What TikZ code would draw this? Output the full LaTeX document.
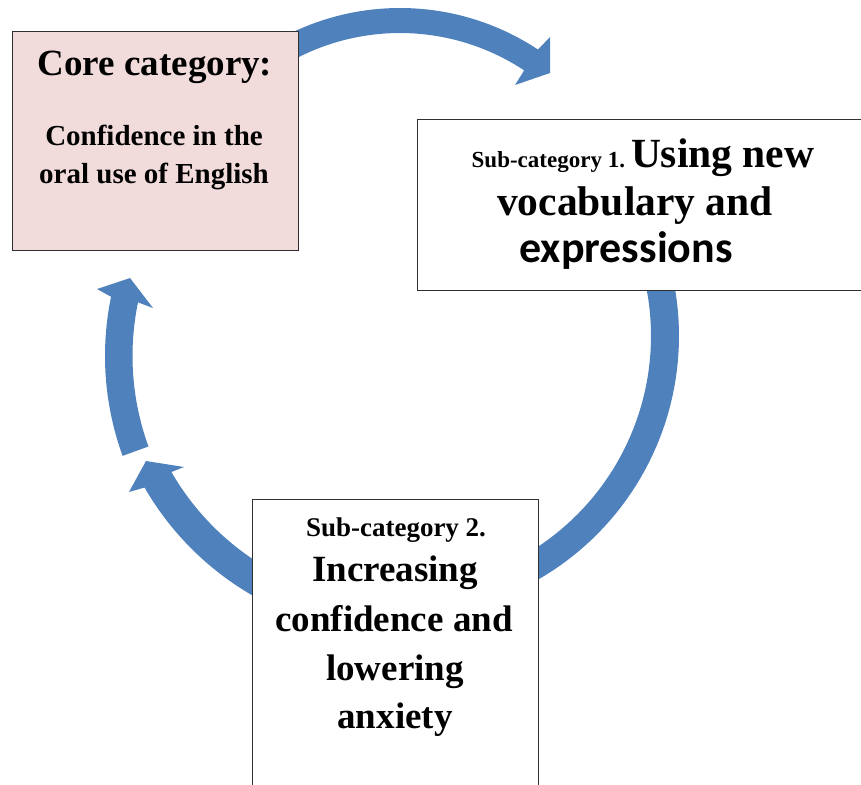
\documentclass[tikz,border=0pt]{standalone}
\usepackage{fontspec}
\setmainfont{Liberation Serif}
\newfontfamily\calib{Carlito}
\definecolor{arrowblue}{HTML}{4F81BD}
\definecolor{corefill}{HTML}{F2DCDB}
\definecolor{boxline}{HTML}{303030}
\begin{document}
\begin{tikzpicture}[x=1pt,y=-1pt,
  box/.style={draw=boxline, line width=1.4pt, inner sep=0pt, anchor=north west},
  txt/.style={inner sep=0pt, anchor=base, font=\bfseries},
  band/.style={fill=arrowblue}]
\useasboundingbox (0,0) rectangle (861,784);
\clip (0,0) rectangle (861,784);
\fill[white] (0,0) rectangle (861,784);

% arrow 1: top
\fill[band] plot[domain=240:303.5, samples=50] ({400+250*cos(\x)},{258+250*sin(\x)})
  -- (550,37) -- (550,73) -- (515,85)
  -- plot[domain=303.5:240, samples=50] ({400+225*cos(\x)},{258+225*sin(\x)}) -- cycle;
% arrow 2: right
\fill[band] plot[domain=-30:110, samples=80] ({398+281*cos(\x)},{336+281*sin(\x)})
  -- plot[domain=110:-30, samples=80] ({398+253*cos(\x)},{336+253*sin(\x)}) -- cycle;
% arrow 3: bottom left
\fill[band] plot[domain=110:150, samples=40] ({400+295*cos(\x)},{340+295*sin(\x)})
  -- (129,492) -- (146,461) -- (184,467)
  -- plot[domain=150:110, samples=40] ({400+264*cos(\x)},{340+264*sin(\x)}) -- cycle;
% arrow 4: left
\fill[band] plot[domain=160:191.7, samples=40] ({397+292*cos(\x)},{356+292*sin(\x)})
  -- (97,289) -- (130,278) -- (153,308)
  -- plot[domain=191.7:160, samples=40] ({397+264.5*cos(\x)},{356+264.5*sin(\x)}) -- cycle;

% boxes
\node[box, fill=corefill, minimum width=286pt, minimum height=219pt] (core) at (12,31) {};
\node[box, fill=white, minimum width=470pt, minimum height=171pt] (sub1) at (417,119) {};
\node[box, fill=white, minimum width=286pt, minimum height=320pt] (sub2) at (252,499) {};

% core text
\node[txt] (c1) at (155,75) {\fontsize{37}{44}\selectfont Core category:};
\node[txt] (c2) at (154,145) {\fontsize{29}{35}\selectfont Confidence in the};
\node[txt] (c3) at (154,183) {\fontsize{29}{35}\selectfont oral use of English};

% sub-category 1 text
\node[txt] (s1a) at (643,167) {{\fontsize{23}{28}\selectfont Sub-category 1.}\hspace{6pt}{\fontsize{41.5}{48}\selectfont Using new}};
\node[txt] (s1b) at (635,215) {\fontsize{41.5}{48}\selectfont vocabulary and};
\node[txt] (s1c) at (626,262) {\calib\fontsize{44}{52}\selectfont expressions};

% sub-category 2 text
\node[txt] (s2a) at (396,536) {\fontsize{27}{32}\selectfont Sub-category 2.};
\node[txt] (s2b) at (395,581) {\fontsize{37}{44}\selectfont Increasing};
\node[txt] (s2c) at (394,631) {\fontsize{37}{44}\selectfont confidence and};
\node[txt] (s2d) at (395,680) {\fontsize{37}{44}\selectfont lowering};
\node[txt] (s2e) at (395,728) {\fontsize{37}{44}\selectfont anxiety};
\end{tikzpicture}
\end{document}
